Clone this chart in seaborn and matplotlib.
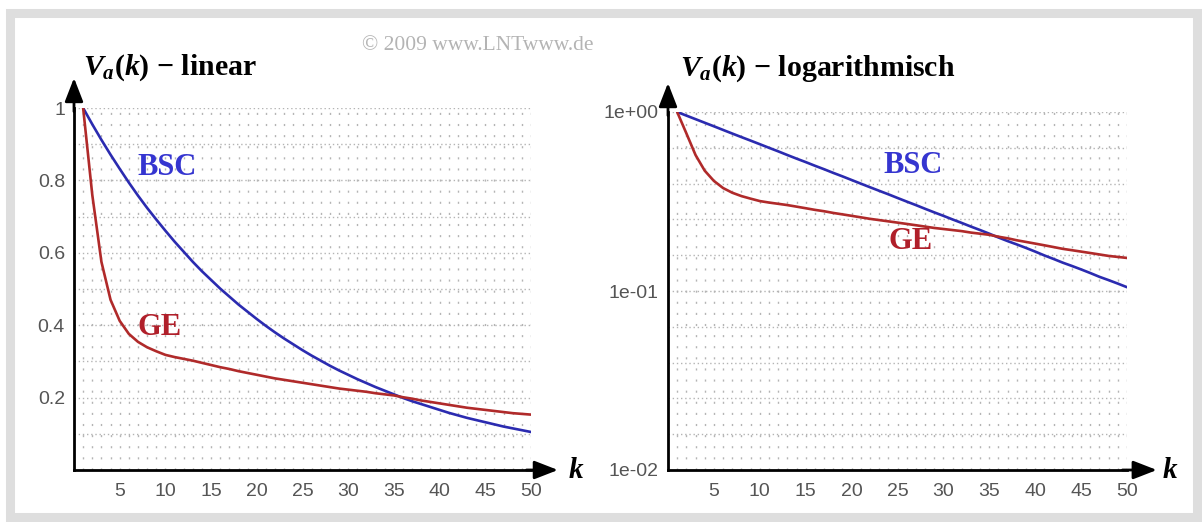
import numpy as np
import pandas as pd
import matplotlib
matplotlib.use("Agg")
import matplotlib.pyplot as plt
import seaborn as sns
from matplotlib.patches import Rectangle
from matplotlib.ticker import FixedLocator, FixedFormatter

# ---- data ----
k = list(range(1, 51))
bsc = [1.000, 0.955, 0.912, 0.871, 0.832, 0.794, 0.758, 0.724, 0.692, 0.661,
       0.631, 0.603, 0.575, 0.549, 0.525, 0.501, 0.479, 0.457, 0.437, 0.417,
       0.398, 0.380, 0.363, 0.347, 0.331, 0.316, 0.302, 0.288, 0.275, 0.263,
       0.251, 0.240, 0.229, 0.219, 0.209, 0.199, 0.190, 0.182, 0.174, 0.166,
       0.158, 0.151, 0.144, 0.138, 0.132, 0.126, 0.120, 0.115, 0.110, 0.105]
ge = [1.000, 0.760, 0.575, 0.470, 0.412, 0.376, 0.354, 0.339, 0.328, 0.318,
      0.312, 0.307, 0.302, 0.296, 0.290, 0.284, 0.279, 0.273, 0.268, 0.263,
      0.258, 0.253, 0.249, 0.245, 0.241, 0.237, 0.233, 0.229, 0.225, 0.222,
      0.219, 0.216, 0.212, 0.209, 0.206, 0.201, 0.197, 0.192, 0.188, 0.184,
      0.180, 0.176, 0.172, 0.169, 0.166, 0.163, 0.160, 0.157, 0.155, 0.153]
xticks = [5, 10, 15, 20, 25, 30, 35, 40, 45, 50]
yticks_lin = [0.2, 0.4, 0.6, 0.8, 1.0]
yticklabels_lin = ["0.2", "0.4", "0.6", "0.8", "1"]
yticks_log = [1e-2, 1e-1, 1e0]
yticklabels_log = ["1e-02", "1e-01", "1e+00"]

df = pd.DataFrame({"k": k * 2, "V": bsc + ge,
                   "Kanal": ["BSC"] * len(k) + ["GE"] * len(k)})

BLUE = "#2b2bb0"
RED = "#b02a2a"
palette = {"BSC": BLUE, "GE": RED}

sns.set_style("white")
plt.rcParams["font.family"] = ["Liberation Sans", "DejaVu Sans"]
plt.rcParams["mathtext.fontset"] = "custom"
plt.rcParams["mathtext.it"] = "Liberation Serif:bold:italic"
plt.rcParams["mathtext.rm"] = "Liberation Serif:bold"
plt.rcParams["mathtext.bf"] = "Liberation Serif:bold"

W, H = 1202, 522
fig = plt.figure(figsize=(W / 100, H / 100), dpi=100)
fig.patch.set_facecolor("white")
fig.patches.append(Rectangle((10 / W, 5 / H), (1197 - 10) / W, (509.5 - 5) / H,
                             transform=fig.transFigure, fill=False,
                             edgecolor="#dedede", linewidth=6.5, zorder=0))

ax1 = fig.add_axes([74 / W, (H - 470) / H, 457 / W, 362 / H])
ax2 = fig.add_axes([668 / W, (H - 470) / H, 459 / W, 358 / H])

GRID = "#b4b4b4"
for ax in (ax1, ax2):
    ax.set_facecolor("none")
    for kk in range(1, 51):
        ax.plot([kk, kk], [0, 1], transform=ax.get_xaxis_transform(),
                color=GRID, lw=1.0, ls=(0, (1.5, 6.5)), zorder=0)
    for i in range(1, 11):
        ax.plot([0, 1], [i / 10, i / 10], transform=ax.transAxes,
                color=GRID, lw=1.0, ls=(0, (1.0, 2.0)), zorder=0)

for ax in (ax1, ax2):
    sns.lineplot(data=df, x="k", y="V", hue="Kanal", palette=palette,
                 ax=ax, lw=1.9, legend=False, zorder=3)
    ax.set_xlim(0, 50)
    ax.set_xlabel("")
    ax.set_ylabel("")
    for s in ("top", "right"):
        ax.spines[s].set_visible(False)
    for s in ("left", "bottom"):
        ax.spines[s].set_linewidth(2.0)
        ax.spines[s].set_color("black")
    ax.set_xticks(xticks)
    ax.set_xticklabels([str(t) for t in xticks])
    ax.tick_params(axis="both", direction="inout", length=9, width=1.4,
                   color="#222222", labelcolor="#555555", labelsize=14)
    ax.tick_params(axis="x", pad=5)
    ax.tick_params(axis="y", pad=2)

ax1.set_ylim(0, 1)
ax1.set_yticks(yticks_lin)
ax1.set_yticklabels(yticklabels_lin)

ax2.set_yscale("log")
ax2.set_ylim(1e-2, 1e0)
ax2.yaxis.set_major_locator(FixedLocator(yticks_log))
ax2.yaxis.set_major_formatter(FixedFormatter(yticklabels_log))
ax2.yaxis.set_minor_locator(FixedLocator([]))

# axis arrows and "k" labels
arrow = dict(arrowstyle="-|>,head_length=0.9,head_width=0.35", lw=2.0,
             color="black", shrinkA=0, shrinkB=0, mutation_scale=16)
for ax, xt, yt, kx in ((ax1, 1.059, 1.083, 1.098), (ax2, 1.065, 1.081, 1.094)):
    ax.annotate("", xy=(xt, 0), xytext=(0.99, 0), xycoords="axes fraction",
                textcoords="axes fraction", arrowprops=arrow, annotation_clip=False)
    ax.annotate("", xy=(0, yt), xytext=(0, 0.99), xycoords="axes fraction",
                textcoords="axes fraction", arrowprops=arrow, annotation_clip=False)
    ax.text(kx, 0.0, r"$k$", transform=ax.transAxes, fontsize=21,
            ha="center", va="center", color="black")

# titles
ax1.text(0.02, 1.092, r"$V_a(k)$" + " \u2212 linear", transform=ax1.transAxes,
         fontsize=21.5, family="Liberation Serif", fontweight="bold",
         ha="left", va="baseline", color="black")
ax2.text(0.026, 1.102, r"$V_a(k)$" + " \u2212 logarithmisch", transform=ax2.transAxes,
         fontsize=21.5, family="Liberation Serif", fontweight="bold",
         ha="left", va="baseline", color="black")

# curve labels
lab = dict(family="Liberation Serif", fontweight="bold", fontsize=22,
           ha="left", va="center")
ax1.text(6.9, 0.837, "BSC", color="#3535d0", **lab)
ax1.text(6.9, 0.395, "GE", color="#b01f2a", **lab)
ax2.text(23.5, 0.50, "BSC", color="#3535d0", **lab)
ax2.text(24.0, 0.19, "GE", color="#b01f2a", **lab)

fig.text(478 / W, (H - 45) / H, "\u00a9 2009 www.LNTwww.de", family="Liberation Serif",
         fontsize=15.5, color="#b4b4b4", ha="center", va="center")

fig.savefig("out.png", dpi=100, facecolor="white")
